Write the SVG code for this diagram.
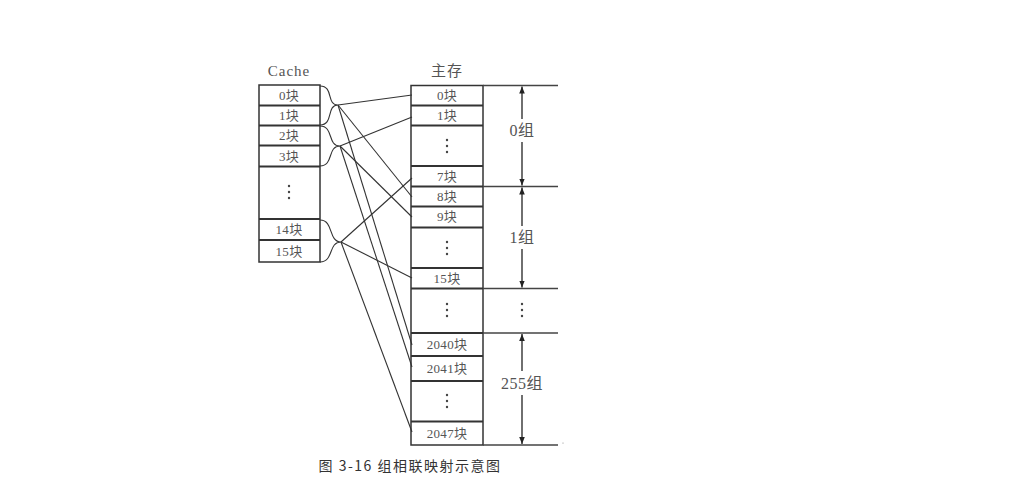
<svg xmlns="http://www.w3.org/2000/svg" width="1011" height="503" viewBox="0 0 1011 503">
<defs>
<marker id="ah" viewBox="0 0 10 10" refX="10" refY="5" markerWidth="7" markerHeight="7" orient="auto-start-reverse" markerUnits="userSpaceOnUse">
<path d="M0,1 L10,5 L0,9 Z" fill="#222"/>
</marker>
</defs>
<style>
.box{fill:#fff;stroke:#333;stroke-width:1.5}
.sep{stroke:#333;stroke-width:2}
.hl{stroke:#444;stroke-width:1.3}
.t{font-family:"Liberation Serif","Noto Sans CJK SC",serif;font-size:13px;fill:#555;text-anchor:middle;letter-spacing:0.3px}
.h{font-family:"Liberation Serif","Noto Sans CJK SC",serif;font-size:15px;fill:#555;text-anchor:middle;letter-spacing:1px}
.g{font-family:"Liberation Serif","Noto Sans CJK SC",serif;font-size:16px;fill:#555;text-anchor:middle;letter-spacing:0.5px}
.dot{fill:#444}
.ln{stroke:#333;stroke-width:1.1;fill:none}
.ar{stroke:#222;stroke-width:1.3;fill:none}
</style>
<rect width="1011" height="503" fill="#fff"/>

<g id="cache">
<text class="h" x="289" y="76">Cache</text>
<rect class="box" x="259" y="85" width="61" height="177"/>
<line class="sep" x1="259" y1="105.5" x2="320" y2="105.5"/>
<line class="sep" x1="259" y1="125.5" x2="320" y2="125.5"/>
<line class="sep" x1="259" y1="145.5" x2="320" y2="145.5"/>
<line class="sep" x1="259" y1="166.5" x2="320" y2="166.5"/>
<line class="sep" x1="259" y1="219" x2="320" y2="219"/>
<line class="sep" x1="259" y1="240" x2="320" y2="240"/>
<text class="t" x="289" y="100">0块</text>
<text class="t" x="289" y="120">1块</text>
<text class="t" x="289" y="140">2块</text>
<text class="t" x="289" y="161">3块</text>
<circle class="dot" cx="289" cy="186" r="1.2"/>
<circle class="dot" cx="289" cy="192" r="1.2"/>
<circle class="dot" cx="289" cy="198" r="1.2"/>
<text class="t" x="289" y="234">14块</text>
<text class="t" x="289" y="256">15块</text>
</g>

<g id="main">
<text class="h" x="447" y="76">主存</text>
<rect class="box" x="411" y="85.5" width="72" height="359.5"/>
<line class="sep" x1="411" y1="105.5" x2="483" y2="105.5"/>
<line class="sep" x1="411" y1="125.5" x2="483" y2="125.5"/>
<line class="sep" x1="411" y1="166" x2="483" y2="166"/>
<line class="sep" x1="411" y1="186.5" x2="483" y2="186.5"/>
<line class="sep" x1="411" y1="206.5" x2="483" y2="206.5"/>
<line class="sep" x1="411" y1="227.5" x2="483" y2="227.5"/>
<line class="sep" x1="411" y1="268" x2="483" y2="268"/>
<line class="sep" x1="411" y1="288.5" x2="483" y2="288.5"/>
<line class="sep" x1="411" y1="333" x2="483" y2="333"/>
<line class="sep" x1="411" y1="356" x2="483" y2="356"/>
<line class="sep" x1="411" y1="381" x2="483" y2="381"/>
<line class="sep" x1="411" y1="421.5" x2="483" y2="421.5"/>
<text class="t" x="447" y="100">0块</text>
<text class="t" x="447" y="120">1块</text>
<circle class="dot" cx="447" cy="140" r="1.2"/>
<circle class="dot" cx="447" cy="146" r="1.2"/>
<circle class="dot" cx="447" cy="152" r="1.2"/>
<text class="t" x="447" y="181">7块</text>
<text class="t" x="447" y="201">8块</text>
<text class="t" x="447" y="221">9块</text>
<circle class="dot" cx="447" cy="242" r="1.2"/>
<circle class="dot" cx="447" cy="248" r="1.2"/>
<circle class="dot" cx="447" cy="254" r="1.2"/>
<text class="t" x="447" y="283">15块</text>
<circle class="dot" cx="447" cy="304" r="1.2"/>
<circle class="dot" cx="447" cy="310" r="1.2"/>
<circle class="dot" cx="447" cy="316" r="1.2"/>
<text class="t" x="447" y="349">2040块</text>
<text class="t" x="447" y="373">2041块</text>
<circle class="dot" cx="447" cy="395" r="1.2"/>
<circle class="dot" cx="447" cy="401" r="1.2"/>
<circle class="dot" cx="447" cy="407" r="1.2"/>
<text class="t" x="447" y="438">2047块</text>
</g>

<g id="groups">
<line class="hl" x1="483" y1="85.5" x2="558" y2="85.5"/>
<line class="hl" x1="483" y1="186.5" x2="558" y2="186.5"/>
<line class="hl" x1="483" y1="288.5" x2="558" y2="288.5"/>
<line class="hl" x1="483" y1="333" x2="558" y2="333"/>
<line class="hl" x1="483" y1="445" x2="558" y2="445"/>
<circle cx="563" cy="443" r="0.6" fill="#888"/>
<line class="ar" x1="522" y1="119" x2="522" y2="86.5" marker-end="url(#ah)"/>
<line class="ar" x1="522" y1="142" x2="522" y2="185.5" marker-end="url(#ah)"/>
<text class="g" x="522" y="136">0组</text>
<line class="ar" x1="522" y1="226" x2="522" y2="187.5" marker-end="url(#ah)"/>
<line class="ar" x1="522" y1="249" x2="522" y2="287.5" marker-end="url(#ah)"/>
<text class="g" x="522" y="243">1组</text>
<circle class="dot" cx="522" cy="304" r="1.2"/>
<circle class="dot" cx="522" cy="310" r="1.2"/>
<circle class="dot" cx="522" cy="316" r="1.2"/>
<line class="ar" x1="522" y1="371" x2="522" y2="334" marker-end="url(#ah)"/>
<line class="ar" x1="522" y1="395" x2="522" y2="444" marker-end="url(#ah)"/>
<text class="g" x="522" y="389">255组</text>
</g>

<g id="connectors">
<path class="ln" d="M320,86 C334,86 326,105 338,105 C326,105 334,125 320,125"/>
<path class="ln" d="M320,126 C334,126 327,146 340,146 C327,146 334,166 320,166"/>
<path class="ln" d="M320,220 C334,220 328,242 341,242 C328,242 334,262 320,262"/>
<line class="ln" x1="338" y1="105" x2="412" y2="95"/>
<line class="ln" x1="338" y1="105" x2="412" y2="197"/>
<line class="ln" x1="338" y1="105" x2="412" y2="345"/>
<line class="ln" x1="340" y1="146" x2="412" y2="117"/>
<line class="ln" x1="340" y1="146" x2="412" y2="217"/>
<line class="ln" x1="340" y1="146" x2="412" y2="367"/>
<line class="ln" x1="341" y1="242" x2="412" y2="178"/>
<line class="ln" x1="341" y1="242" x2="412" y2="278"/>
<line class="ln" x1="341" y1="242" x2="412" y2="432"/>
</g>

<text x="410" y="471" font-family="'Noto Sans CJK SC','Liberation Sans',sans-serif" font-size="14" fill="#333" text-anchor="middle" letter-spacing="1.5">图 3-16 组相联映射示意图</text>
</svg>
